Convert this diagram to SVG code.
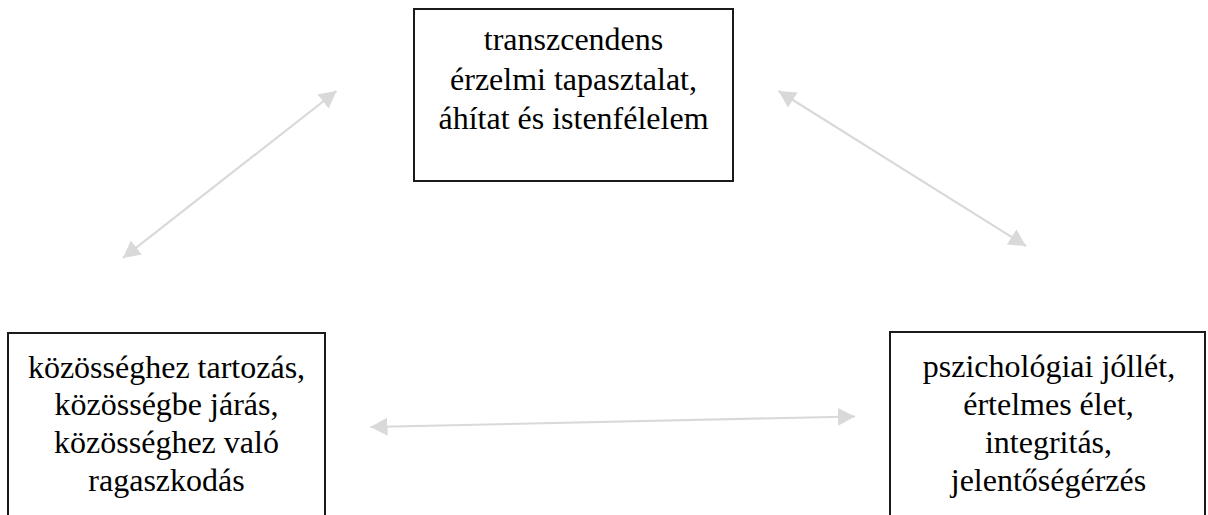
<svg xmlns="http://www.w3.org/2000/svg" width="1208" height="515" viewBox="0 0 1208 515">
  <style>
    .box { fill: #ffffff; stroke: #1a1a1a; stroke-width: 2; }
    .lbl { font-family: "Liberation Serif", "Times New Roman", serif; font-size: 32px; fill: #000000; text-anchor: middle; }
    .conn { stroke: #d9d9d9; stroke-width: 2.2; fill: none; marker-start: url(#ah); marker-end: url(#ah); }
  </style>
  <defs>
    <marker id="ah" markerUnits="userSpaceOnUse" markerWidth="18" markerHeight="18" refX="17" refY="9" orient="auto-start-reverse" viewBox="0 0 18 18">
      <path d="M0,0 L17,9 L0,18 z" fill="#d9d9d9"/>
    </marker>
  </defs>
  <rect width="1208" height="515" fill="#ffffff"/>
  <g id="connectors">
    <line class="conn" x1="123" y1="258" x2="336.5" y2="91"/>
    <line class="conn" x1="778.5" y1="91" x2="1026" y2="246"/>
    <line class="conn" x1="370.5" y1="427" x2="855" y2="416.5"/>
  </g>
  <g id="node-top">
    <rect class="box" x="414" y="9" width="319" height="172"/>
    <text class="lbl" x="573.5" y="50">transzcendens</text>
    <text class="lbl" x="573.5" y="89.5">érzelmi tapasztalat,</text>
    <text class="lbl" x="573.5" y="128.5">áhítat és istenfélelem</text>
  </g>
  <g id="node-left">
    <rect class="box" x="8" y="333" width="317" height="200"/>
    <text class="lbl" x="166.5" y="377.5">közösséghez tartozás,</text>
    <text class="lbl" x="166.5" y="415">közösségbe járás,</text>
    <text class="lbl" x="166.5" y="453">közösséghez való</text>
    <text class="lbl" x="166.5" y="490.5">ragaszkodás</text>
  </g>
  <g id="node-right">
    <rect class="box" x="890" y="332" width="315" height="200"/>
    <text class="lbl" x="1049" y="377">pszichológiai jóllét,</text>
    <text class="lbl" x="1048.5" y="415">értelmes élet,</text>
    <text class="lbl" x="1048.5" y="453">integritás,</text>
    <text class="lbl" x="1048.5" y="490.5">jelentőségérzés</text>
  </g>
</svg>
